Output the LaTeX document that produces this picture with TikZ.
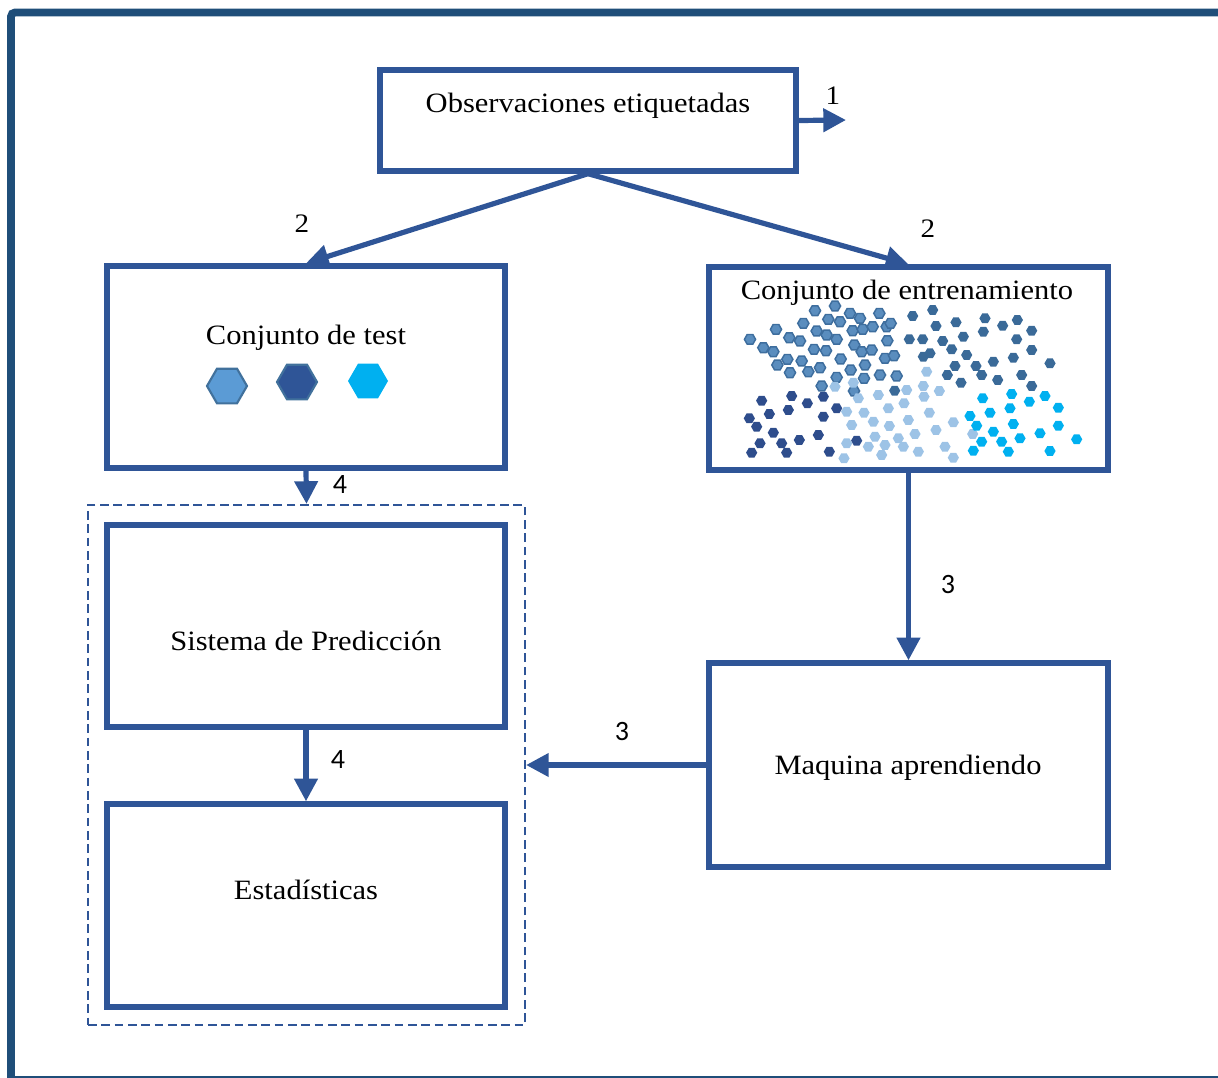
\documentclass[tikz,border=0pt]{standalone}
\usepackage{fontspec}
\setmainfont{Liberation Serif}[FakeStretch=1.09]
\newfontfamily\digitfont{Carlito}
\usetikzlibrary{arrows.meta,shapes.geometric}

\definecolor{boxblue}{HTML}{2F5597}
\definecolor{frameblue}{HTML}{1F4E79}
\definecolor{hexmid}{HTML}{5B9BD5}
\definecolor{hexedge}{HTML}{41719C}
\definecolor{hexcyan}{HTML}{00B0F0}
\definecolor{dotsteel}{HTML}{5A8DBE}
\definecolor{dotsteeledge}{HTML}{3E6E9E}
\definecolor{dotdeep}{HTML}{3A6A98}
\definecolor{dotnavy}{HTML}{2E4D8C}
\definecolor{dotlight}{HTML}{9DC3E6}

\tikzset{
  box/.style={draw=boxblue, line width=4pt, minimum width=298.5pt, minimum height=151.5pt, inner sep=0pt},
  arr/.style={draw=boxblue, line width=3.9pt, -{Triangle[length=17pt,width=17pt]}},
  txt/.style={font=\fontsize{21}{24}\selectfont, inner sep=0pt},
  num/.style={font=\fontsize{20}{24}\selectfont, inner sep=0pt},
  snum/.style={font=\digitfont\fontsize{21}{24}\selectfont, inner sep=0pt},
  bighex/.style={regular polygon, regular polygon sides=6, minimum size=30pt, inner sep=0pt},
  dot/.style={regular polygon, regular polygon sides=6, minimum size=8.4pt, inner sep=0pt},
  steel/.style={dot, fill=dotsteel, draw=dotsteeledge, line width=1.1pt},
  deep/.style={dot, fill=dotdeep},
  navy/.style={dot, fill=dotnavy},
  light/.style={dot, fill=dotlight},
  cyan/.style={dot, fill=hexcyan},
}

\begin{document}
\begin{tikzpicture}[x=0.75pt, y=-0.75pt]
\useasboundingbox (0,0) rectangle (1218,1078);

% outer frame
\draw[frameblue, line width=5.8pt, rounded corners=3pt] (11,1080) -- (11,12.5) -- (1230,12.5);
\draw[frameblue, line width=1.5pt] (11,1077) -- (1230,1077);

% boxes
\node[box, minimum width=312pt, minimum height=75.75pt] (obs) at (588,120.5) {};
\node[box] (test) at (306,367) {};
\node[box, minimum width=299.25pt, minimum height=152.25pt] (train) at (908.5,368.5) {};
\node[box] (sist) at (306,626) {};
\node[box, minimum height=152.25pt] (estad) at (306,905.5) {};
\node[box, minimum width=299.25pt, minimum height=153pt] (maq) at (908.5,765) {};
\node[draw=boxblue, line width=1.6pt, dash pattern=on 6.5pt off 3.5pt, minimum width=327.75pt, minimum height=390pt, inner sep=0pt] (group) at (306.5,765) {};

% box texts
\node[txt] (tobs) at (588,106) {Observaciones etiquetadas};
\node[txt] (ttest) at (306,338) {Conjunto de test};
\node[txt] (ttrain) at (907,293) {Conjunto de entrenamiento};
\node[txt] (tsist) at (306,641) {Sistema de Predicción};
\node[txt] (testad) at (306,890) {Estadísticas};
\node[txt] (tmaq) at (908,768) {Maquina aprendiendo};

% test-set classes
\node[bighex, fill=hexmid, draw=hexedge, line width=1.6pt] (hA) at (227,386) {};
\node[bighex, fill=boxblue, draw=hexedge, line width=1.6pt] (hB) at (297,382) {};
\node[bighex, fill=hexcyan] (hC) at (368,381) {};

% training-set scatter
\begin{scope}[shift={(700,260)}, scale=1/3]
\foreach \p in {(345,152),(405,138),(385,178),(420,185),(450,160),(480,175),(538,160),(310,190),(228,208),(350,213),(380,225),(410,238),(458,212),(488,208),(518,200),(560,200),(572,190),(150,238),(268,233),(300,243),(463,255),(562,242),(190,263),(220,275),(342,268),(378,272),(485,275),(515,270),(555,295),(582,287),(422,297),(232,315),(262,298),(305,303),(360,323),(270,338),(325,335),(452,330),(495,315),(410,352),(492,355),(540,345),(590,348),(365,378),(462,393)}
  \node[steel] at \p {};
\foreach \p in {(638,168),(698,150),(708,198),(768,187),(855,175),(908,197),(952,180),(850,215),(995,212),(628,238),(668,238),(728,243),(790,230),(950,238),(755,268),(800,285),(690,280),(670,290),(995,270),(940,293),(880,305),(1050,310),(765,318),(828,318),(845,345),(742,345),(893,360),(965,345),(783,368),(995,378),(584,392)}
  \node[deep] at \p {};
\foreach \p in {(185,422),(275,408),(370,410),(322,430),(208,462),(265,450),(410,445),(148,475),(370,470),(170,500),(220,518),(355,525),(298,540),(180,550),(245,550),(470,542),(155,578),(260,578),(388,575)}
  \node[navy] at \p {};
\foreach \p in {(680,335),(405,380),(460,368),(670,378),(620,390),(718,393),(535,405),(475,415),(612,430),(672,410),(440,455),(492,458),(565,445),(688,458),(520,485),(455,495),(568,498),(625,480),(760,487),(708,510),(525,530),(645,522),(818,522),(440,550),(505,560),(595,535),(555,555),(735,560),(610,560),(545,585),(655,575),(432,595),(760,593)}
  \node[light] at \p {};
\foreach \p in {(848,415),(935,402),(1035,408),(988,425),(930,445),(870,458),(1075,443),(810,468),(830,497),(940,492),(1075,497),(880,515),(1020,520),(960,535),(845,545),(905,545),(1130,538),(820,572),(925,575),(1050,573)}
  \node[cyan] at \p {};
\end{scope}

% connectors
\coordinate (out1) at (846,120);
\draw[arr] (obs.east) -- (out1);
\draw[arr] (obs.south) -- (test.north);
\draw[arr] (obs.south) -- (train.north);
\draw[arr] (test.south) -- (group.north);
\draw[arr] (train.south) -- (maq.north);
\draw[arr] (maq.west) -- (group.east);
\draw[arr] (sist.south) -- (estad.north);

% step numbers
\node[num] (n1) at (833,96) {1};
\node[num] (n2a) at (302,224) {2};
\node[num] (n2b) at (928,229) {2};
\node[snum] (n4a) at (340,485) {4};
\node[snum] (n3a) at (948,585) {3};
\node[snum] (n3b) at (622,732) {3};
\node[snum] (n4b) at (338,760) {4};
\end{tikzpicture}
\end{document}
